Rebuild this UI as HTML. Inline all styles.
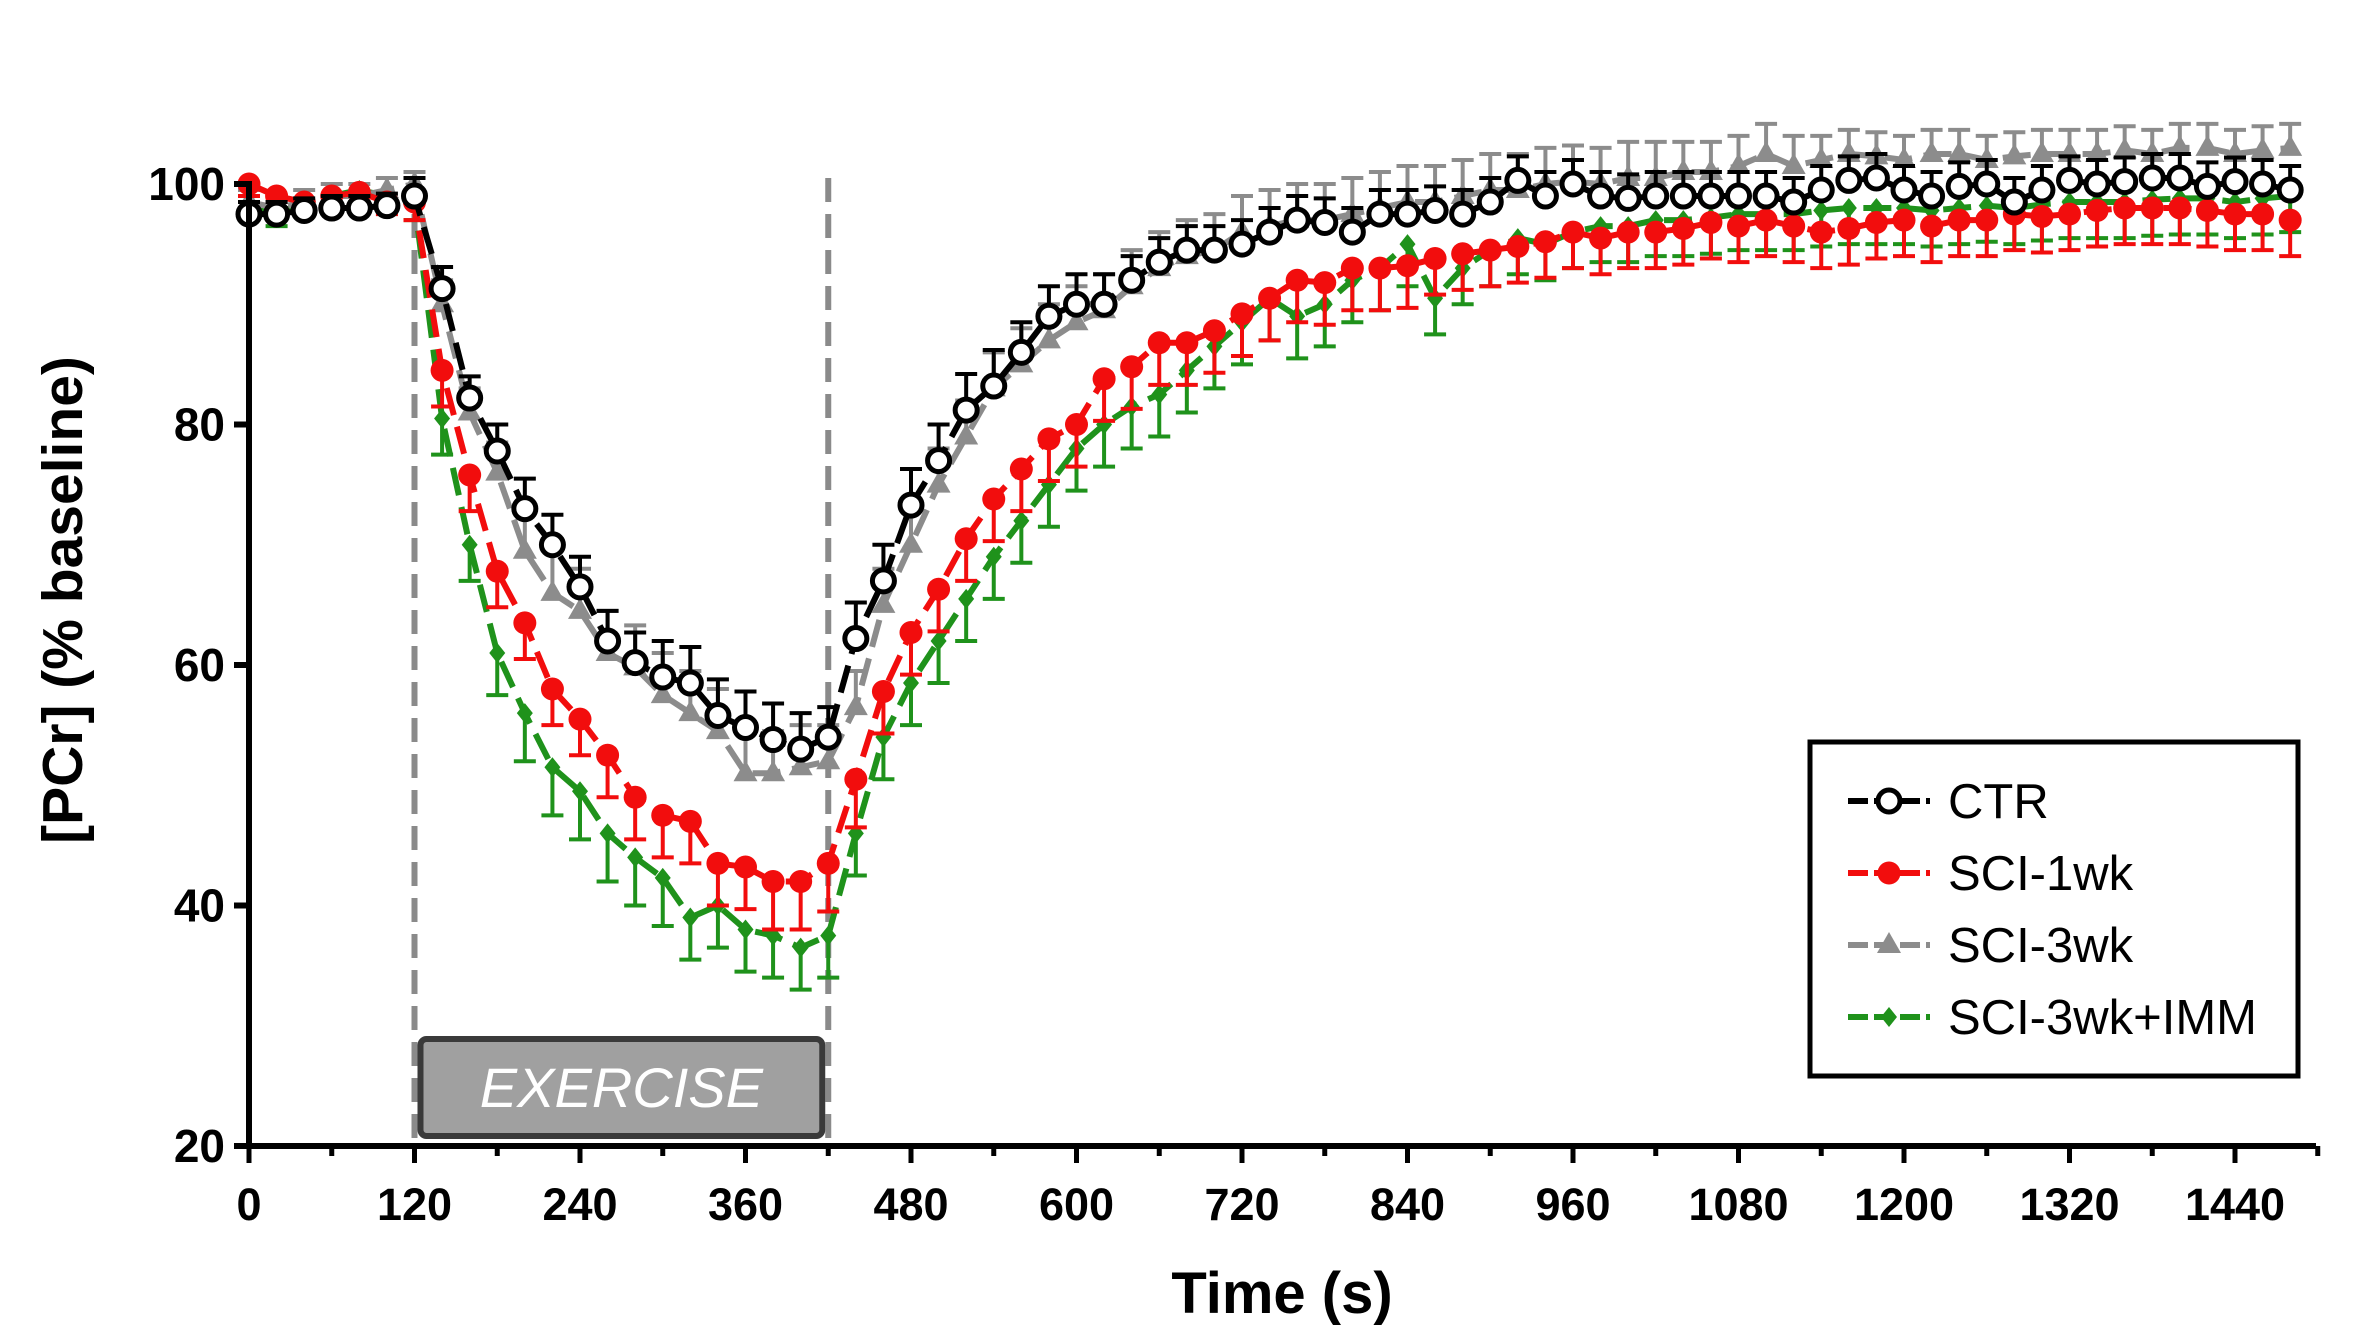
<!DOCTYPE html>
<html><head><meta charset="utf-8"><style>
html,body{margin:0;padding:0;background:#fff;}
svg{display:block;font-family:"Liberation Sans",Arial,sans-serif;}
</style></head><body>
<svg id="chart" width="2367" height="1342" viewBox="0 0 2367 1342" xmlns="http://www.w3.org/2000/svg">
<g id="plot"></g>
</svg>
<script>
const times = [];
for (let t = 0; t <= 1480; t += 20) times.push(t);
const ctrValues = [97.5,97.5,97.8,98,98,98.2,99,91.3,82.2,77.8,73,70,66.5,62,60.2,59,58.5,55.8,54.8,53.8,53,54,62.2,67,73.3,77,81.2,83.2,86,89,90,90,92,93.5,94.5,94.5,95,96,97,96.8,96,97.5,97.5,97.8,97.5,98.5,100.3,99,100,99,98.8,99,99,99,99,99,98.5,99.5,100.3,100.5,99.5,99,99.8,100,98.5,99.5,100.3,100,100.2,100.5,100.5,99.8,100.2,100,99.5];
const sci1Values = [100,99,98.5,99,99.3,98.5,98.5,84.5,75.8,67.8,63.5,58,55.5,52.5,49,47.5,47,43.5,43.2,42,42,43.5,50.5,57.8,62.7,66.3,70.5,73.8,76.3,78.8,80,83.8,84.8,86.8,86.8,87.8,89.2,90.5,92,91.8,93,93,93.2,93.8,94.2,94.5,94.8,95.2,96,95.5,96,96,96.3,96.8,96.5,97,96.5,96,96.3,96.8,97,96.5,97,97,97.5,97.3,97.5,97.8,98,98,98,97.8,97.5,97.5,97];
const sci3Values = [98.5,98,98.5,99,99,99.5,100,90,81,76,69.5,66,64.5,61,59.8,57.5,56,54.5,51,51,51.5,52,56.5,65,70,75,79,83,85,87,88.5,89.5,91.5,93,94,94.5,96,96.5,97,97,97.5,98,98.5,98.5,99,99.5,99.5,100,100.2,100,100.5,100.5,101,101,101.5,102.5,101.5,102,102.5,102.3,102,102.5,102.5,102,102.3,102.5,102.5,102.5,102.8,102.5,103,103,102.5,102.8,103];
const immValues = [98,97.5,98.5,99,99.5,99,98.5,80.5,70,61,56,51.5,49.5,46,44,42.3,39,40,38,37.5,36.5,37.5,46,54,58.5,62,65.5,69,72,75,78,80,81.5,82.5,84.5,86.5,88.5,90.5,89,90,92,93,95,90.5,93,94.5,95.5,95,96,96.5,96.5,97,97,97.2,97.5,97.5,97.5,97.8,98,98,98,97.8,98,98.2,98,98.3,98.5,98.5,98.5,98.7,98.8,98.8,98.5,98.8,99];
const ctrErr = [1,1,1,1,1,1,1.5,1.8,1.8,2.2,2.5,2.5,2.5,2.5,2.5,3,3,3,3,3,3,2.5,3,3,3,3,3,3,2.5,2.5,2.5,2.5,2,2,2,2,2,2,2,2,2,2,2,2,2,2,2,2,2,2,2,2,2,2,2,2,2,2,2,2,2,2,2,2,2,2,2,2,2,2,2,2,2,2,2];
const sci1Err = [1,1,1,1,1,1,1.5,3,3,3,3,3,3,3.5,3.5,3.5,3.5,3.5,3.5,4,4,4,4,3.5,3.5,3.5,3.5,3.5,3.5,3.5,3.5,3.5,3.5,3.5,3.5,3.5,3.5,3.5,3.5,3.5,3.5,3.5,3.5,3,3,3,3,3,3,3,3,3,3,3,3,3,3,3,3,3,3,3,3,3,3,3,3,3,3,3,3,3,3,3,3];
const sci3Err = [1,1,1,1,1,1,1,2,2,2.5,3,3.5,3.5,3.5,3.5,3.5,3.5,3.5,3.5,3.5,3.5,3,3,3,3,3,3,3,3,3,3,3,3,3,3,3,3,3,3,3,3,3,3,3,3,3,3,3,3,3,3,3,2.5,2.5,2.5,2.5,2.5,2,2,2,2,2,2,2,2,2,2,2,2,2,2,2,2,2,2];
const immErr = [1,1,1,1,1,1,1.5,3,3,3.5,4,4,4,4,4,4,3.5,3.5,3.5,3.5,3.5,3.5,3.5,3.5,3.5,3.5,3.5,3.5,3.5,3.5,3.5,3.5,3.5,3.5,3.5,3.5,3.5,3.5,3.5,3.5,3.5,3.5,3.5,3,3,3,3,3,3,3,3,3,3,3,3,3,3,3,3,3,3,3,3,3,3,3,3,3,3,3,3,3,3,3,3];
const xTicks = [0,120,240,360,480,600,720,840,960,1080,1200,1320,1440];
const yTicks = [20,40,60,80,100];

const NS = "http://www.w3.org/2000/svg";
const g = document.getElementById('plot');
const X0 = 249, PXS = (2235 - 249) / 1440;
const Y20 = 1146, PYU = (1146 - 184) / 80;
const xs = t => X0 + t * PXS;
const ys = v => Y20 - (v - 20) * PYU;
function mk(tag, attrs, parent) {
  const e = document.createElementNS(NS, tag);
  for (const k in attrs) e.setAttribute(k, attrs[k]);
  (parent || g).appendChild(e);
  return e;
}

[120, 420].forEach(t => {
  const l = mk('line', {x1: xs(t), x2: xs(t), y1: 178, y2: 1146, stroke: '#8a8a8a', 'stroke-width': 6, 'stroke-dasharray': '24,12'});
  
  
});
const exBox = mk('rect', {x: xs(120) + 6, y: 1039, width: xs(420) - xs(120) - 12, height: 97, rx: 6, fill: '#a0a0a0', stroke: '#3a3a3a', 'stroke-width': 6});


const exT = mk('text', {x: (xs(120) + xs(420)) / 2, y: 1107, 'text-anchor': 'middle', 'font-size': 56, 'font-style': 'italic', fill: '#fff'});
exT.textContent = 'EXERCISE';



function series(name, vals, errs, dir, color, marker) {
  const sg = mk('g', {});
  
  
  vals.forEach((v, i) => {
    const e = errs[i] * dir;
    const x = xs(times[i]);
    const eb = mk('path', {d: `M${x},${ys(v)}V${ys(v + e)}M${x - 11},${ys(v + e)}H${x + 11}`, stroke: color, 'stroke-width': 4, fill: 'none'}, sg);
    
    
  });
  const pts = vals.map((v, i) => xs(times[i]) + ',' + ys(v)).join(' ');
  const pl = mk('polyline', {points: pts, fill: 'none', stroke: color, 'stroke-width': 6, 'stroke-dasharray': '28,12'}, sg);
  
  
  vals.forEach((v, i) => {
    const m = drawMarker(sg, marker, xs(times[i]), ys(v), color);
    
    
  });
}
function drawMarker(parent, type, x, y, color) {
  if (type === 'open') return mk('circle', {cx: x, cy: y, r: 11, fill: '#fff', stroke: color, 'stroke-width': 5}, parent);
  if (type === 'circle') return mk('circle', {cx: x, cy: y, r: 11.5, fill: color}, parent);
  if (type === 'tri') return mk('polygon', {points: `${x},${y - 13} ${x - 12},${y + 8} ${x + 12},${y + 8}`, fill: color}, parent);
  return mk('polygon', {points: `${x},${y - 10} ${x + 8},${y} ${x},${y + 10} ${x - 8},${y}`, fill: color}, parent);
}
series('sci-3wk-imm', immValues, immErr, -1, '#1f921b', 'diamond');
series('sci-3wk', sci3Values, sci3Err, 1, '#8c8c8c', 'tri');
series('sci-1wk', sci1Values, sci1Err, -1, '#f20d0d', 'circle');
series('ctr', ctrValues, ctrErr, 1, '#000', 'open');

const ya = mk('line', {x1: X0, x2: X0, y1: ys(100) - 3, y2: Y20 + 3, stroke: '#000', 'stroke-width': 6});


const xa = mk('line', {x1: X0 - 3, x2: 2316, y1: Y20, y2: Y20, stroke: '#000', 'stroke-width': 6});


yTicks.forEach(v => {
  mk('line', {x1: X0 - 15, x2: X0, y1: ys(v), y2: ys(v), stroke: '#000', 'stroke-width': 6});
  const t = mk('text', {x: X0 - 24, y: ys(v) + 16, 'text-anchor': 'end', 'font-size': 46, 'font-weight': 'bold'});
  t.textContent = v;
  
  
});
for (let t = 0; t <= 1500; t += 60) {
  mk('line', {x1: xs(t), x2: xs(t), y1: Y20, y2: Y20 + (t % 120 === 0 ? 17 : 10), stroke: '#000', 'stroke-width': 5});
}
xTicks.forEach(v => {
  const t = mk('text', {x: xs(v), y: 1220, 'text-anchor': 'middle', 'font-size': 45, 'font-weight': 'bold'});
  t.textContent = v;
  
  
});
const xt = mk('text', {x: 1282, y: 1313, 'text-anchor': 'middle', 'font-size': 58, 'font-weight': 'bold'});
xt.textContent = 'Time (s)';


const yt = mk('text', {x: 0, y: 0, 'text-anchor': 'middle', 'font-size': 57, 'font-weight': 'bold', transform: 'translate(82,600) rotate(-90)'});
yt.textContent = '[PCr] (% baseline)';



const lg = mk('g', {});


mk('rect', {x: 1810, y: 742, width: 488, height: 334, fill: '#fff', stroke: '#000', 'stroke-width': 5}, lg);
const legNames = ['CTR', 'SCI-1wk', 'SCI-3wk', 'SCI-3wk+IMM'];
const legColors = ['#000', '#f20d0d', '#8c8c8c', '#1f921b'];
const legMarkers = ['open', 'circle', 'tri', 'diamond'];
legNames.forEach((n, i) => {
  const y = 801 + i * 72;
  const eg = mk('g', {}, lg);
  
  
  mk('line', {x1: 1848, x2: 1930, y1: y, y2: y, stroke: legColors[i], 'stroke-width': 6, 'stroke-dasharray': '20,6'}, eg);
  drawMarker(eg, legMarkers[i], 1889, y, legColors[i]);
  const t = mk('text', {x: 1948, y: y + 17, 'font-size': 49}, eg);
  t.textContent = n;
});
</script>
</body></html>
